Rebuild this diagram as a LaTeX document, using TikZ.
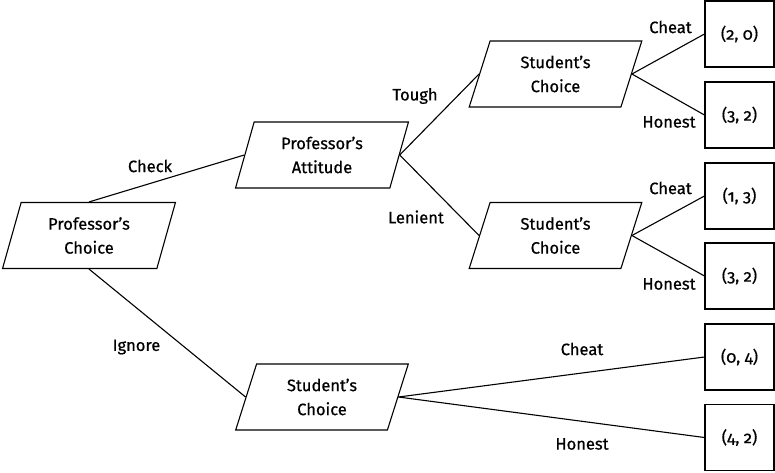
\documentclass[tikz,border=0pt]{standalone}
\usepackage{fontspec}
\setmainfont{Fira Sans}[Numbers=OldStyle, FakeBold=0.6]
\usetikzlibrary{shapes.geometric}
\begin{document}
\begin{tikzpicture}[x=1pt,y=-1pt,
  every node/.style={font=\fontsize{16.5}{24}\selectfont},
  para/.style={draw, line width=1.1pt, trapezium, trapezium left angle=73, trapezium right angle=107,
    trapezium stretches=true, minimum width=173pt, minimum height=66pt, inner sep=0pt, align=center},
  payoff/.style={draw, line width=1.1pt, minimum width=69pt, minimum height=66pt, inner sep=0pt},
  lbl/.style={inner sep=0pt},
  conn/.style={line width=1.1pt}]
\useasboundingbox (0,0) rectangle (775,472);
% decision nodes
\node[para] (pc) at (89,235.5) {Professor’s\\Choice};
\node[para] (pa) at (322,155) {Professor’s\\Attitude};
\node[para] (sc1) at (555.5,74) {Student’s\\Choice};
\node[para] (sc2) at (555.5,235.5) {Student’s\\Choice};
\node[para] (sc3) at (322,397) {Student’s\\Choice};
% payoffs
\node[payoff] (b1) at (739.5,34) {(2, 0)};
\node[payoff] (b2) at (739.5,115) {(3, 2)};
\node[payoff] (b3) at (739.5,196) {(1, 3)};
\node[payoff] (b4) at (739.5,276) {(3, 2)};
\node[payoff] (b5) at (739.5,357) {(0, 4)};
\node[payoff] (b6) at (739.5,437.5) {(4, 2)};
% connectors
\draw[conn] (pc.north) -- (pa.left side);
\draw[conn] (pc.south) -- (sc3.left side);
\draw[conn] (pa.right side) -- (sc1.left side);
\draw[conn] (pa.right side) -- (sc2.left side);
\draw[conn] (sc1.right side) -- (b1.west);
\draw[conn] (sc1.right side) -- (b2.west);
\draw[conn] (sc2.right side) -- (b3.west);
\draw[conn] (sc2.right side) -- (b4.west);
\draw[conn] (sc3.right side) -- (b5.west);
\draw[conn] (sc3.right side) -- (b6.west);
% labels
\node[lbl] (lcheck) at (150,166) {Check};
\node[lbl] (lignore) at (136.5,347) {Ignore};
\node[lbl] (ltough) at (415,96) {Tough};
\node[lbl] (llenient) at (416,217) {Lenient};
\node[lbl] (lcheat1) at (670.5,27) {Cheat};
\node[lbl] (lhonest1) at (669,122) {Honest};
\node[lbl] (lcheat2) at (670.5,188) {Cheat};
\node[lbl] (lhonest2) at (669,284) {Honest};
\node[lbl] (lcheat3) at (582,349) {Cheat};
\node[lbl] (lhonest3) at (582,444) {Honest};
\end{tikzpicture}
\end{document}
